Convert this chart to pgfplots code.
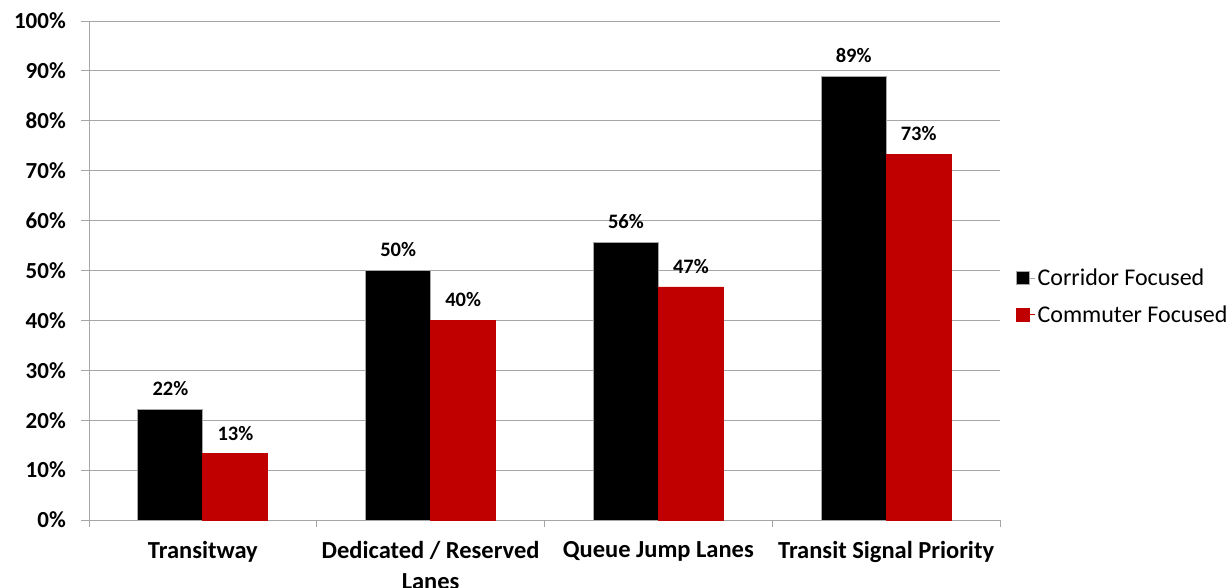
\documentclass[border=0pt]{standalone}
\usepackage{pgfplots}
\pgfplotsset{compat=1.18}
\usepackage{fontspec}
\setmainfont{Carlito}
\definecolor{barred}{HTML}{C00000}
\definecolor{gridgray}{HTML}{A6A6A6}

\begin{document}
\begin{tikzpicture}
\begin{axis}[
  at={(0pt,0pt)}, anchor=south west,
  scale only axis, width=911pt, height=499pt,
  ybar=0pt, bar width=65pt,
  xmin=-0.5, xmax=3.5, ymin=0, ymax=100,
  axis x line*=bottom, axis y line*=left,
  axis line style={gridgray, line width=0.9pt},
  xtick={0,1,2,3},
  xticklabels={Transitway, Dedicated / Reserved\\Lanes, Queue Jump Lanes, Transit Signal Priority},
  minor xtick={-0.5,0.5,1.5,2.5,3.5},
  major x tick style={draw=none},
  minor x tick style={gridgray, line width=0.9pt},
  minor tick length=7pt,
  ytick={0,10,...,100},
  yticklabels={0\%,10\%,20\%,30\%,40\%,50\%,60\%,70\%,80\%,90\%,100\%},
  y tick style={gridgray, line width=0.9pt},
  major tick length=8pt,
  tick align=outside,
  ymajorgrids, grid style={gridgray, line width=0.9pt},
  xticklabel style={font=\bfseries\fontsize{24.5}{31}\selectfont, align=center, inner sep=0pt, yshift=-13pt},
  yticklabel style={font=\bfseries\fontsize{23}{23}\selectfont, inner sep=0pt, xshift=-15pt},
  nodes near coords={\pgfmathprintnumber[fixed,precision=0,assume math mode=true]{\pgfplotspointmeta}\%},
  every node near coord/.append style={font=\bfseries\fontsize{20.5}{20.5}\selectfont, text=black, inner sep=0pt, yshift=13pt},
  legend style={draw=none, fill=none, at={(1.0138,0.448)}, anchor=west,
    font=\fontsize{24}{24}\selectfont, row sep=14pt,
    /tikz/every even column/.append style={column sep=0pt}},
  legend cell align=left,
  legend image code/.code={\fill[#1] (0pt,-6.5pt) rectangle (13pt,6.5pt); \path (13pt,0pt) -- (19pt,0pt);},
  clip=false,
]
\addplot[fill=black, draw=gridgray, line width=0.8pt] coordinates {(0,22.2) (1,50.0) (2,55.6) (3,88.9)};
\addplot[fill=barred, draw=barred, line width=0.8pt] coordinates {(0,13.3) (1,40.0) (2,46.7) (3,73.3)};
\legend{Corridor Focused, Commuter Focused}
\end{axis}
\pgfresetboundingbox
\path[use as bounding box] (-89pt,-67pt) rectangle (1138pt,520pt);
\end{tikzpicture}
\end{document}
